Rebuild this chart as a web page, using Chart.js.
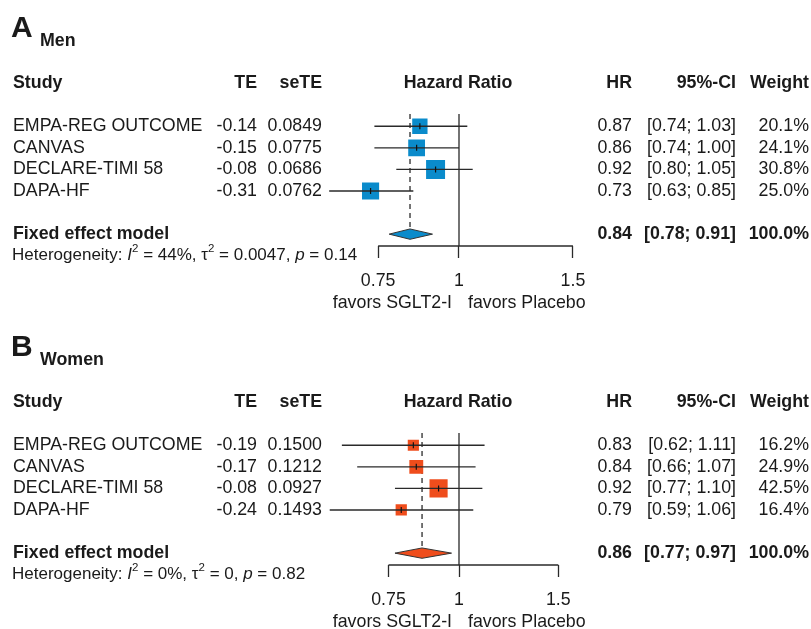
<!DOCTYPE html>
<html>
<head>
<meta charset="utf-8">
<script src="https://cdn.jsdelivr.net/npm/chart.js@4.4.0/dist/chart.umd.min.js"></script>
<style>
html,body{margin:0;padding:0;background:#fff;overflow:hidden;width:811px;height:629px;}
.panel{position:absolute;left:0;width:811px;}
#pA{top:0;height:319px;}
#pB{top:319px;height:310px;}
</style>
</head>
<body>
<div class="panel" id="pA"><canvas id="cA" width="811" height="319"></canvas></div>
<div class="panel" id="pB"><canvas id="cB" width="811" height="310"></canvas></div>
<script>
// ---------- data ----------
const studies = ['EMPA-REG OUTCOME', 'CANVAS', 'DECLARE-TIMI 58', 'DAPA-HF'];
const columnHeaders = ['Study', 'TE', 'seTE', 'Hazard Ratio', 'HR', '95%-CI', 'Weight'];
const axisTicks = [0.75, 1, 1.5];
const favorLabels = ['favors SGLT2-I', 'favors Placebo'];
const fixedLabel = 'Fixed effect model';

// Panel A: Men
const menTE = [-0.14, -0.15, -0.08, -0.31];
const menSeTE = [0.0849, 0.0775, 0.0686, 0.0762];
const menHR = [0.87, 0.86, 0.92, 0.73];
const menLower = [0.74, 0.74, 0.80, 0.63];
const menUpper = [1.03, 1.00, 1.05, 0.85];
const menWeight = [20.1, 24.1, 30.8, 25.0];
const menFixed = [0.84, 0.78, 0.91];          // HR, lower, upper
const menHet = ['44%', '0.0047', '0.14'];      // I^2, tau^2, p

// Panel B: Women
const womenTE = [-0.19, -0.17, -0.08, -0.24];
const womenSeTE = [0.1500, 0.1212, 0.0927, 0.1493];
const womenHR = [0.83, 0.84, 0.92, 0.79];
const womenLower = [0.62, 0.66, 0.77, 0.59];
const womenUpper = [1.11, 1.07, 1.10, 1.06];
const womenWeight = [16.2, 24.9, 42.5, 16.4];
const womenFixed = [0.86, 0.77, 0.97];
const womenHet = ['0%', '0', '0.82'];

// ---------- drawing ----------
const FONT = '"Liberation Sans", Arial, Helvetica, sans-serif';
const FS = 17.8;
const INK = '#1a1a1a';
const LINE = '#2a2a2a';
const TICK_PAD = 12, TICK_LEN = 12;

const tablePlugin = {
  id: 'forestTable',
  afterDraw(chart, args, o) {
    const p = o.panel;
    if (!p) return;
    const ctx = chart.ctx, ys = chart.scales.y, xs = chart.scales.x;
    const Y = r => ys.getPixelForValue(r);
    ctx.save();
    ctx.fillStyle = INK;
    const txt = (s, x, y, align, bold, size, italic) => {
      ctx.font = (italic ? 'italic ' : '') + (bold ? 'bold ' : '') + (size || FS) + 'px ' + FONT;
      ctx.textAlign = align;
      ctx.fillText(s, x, y);
      return ctx.measureText(s).width;
    };
    // panel title
    ctx.textBaseline = 'alphabetic';
    txt(p.letter, 11, 37, 'left', true, 30);
    txt(p.group, 40, 46, 'left', true, FS);
    ctx.textBaseline = 'middle';
    // header row
    const hy = Y(1);
    txt(columnHeaders[0], 13, hy, 'left', true);
    txt(columnHeaders[1], 257, hy, 'right', true);
    txt(columnHeaders[2], 322, hy, 'right', true);
    txt(columnHeaders[3], 458, hy, 'center', true);
    txt(columnHeaders[4], 632, hy, 'right', true);
    txt(columnHeaders[5], 736, hy, 'right', true);
    txt(columnHeaders[6], 809, hy, 'right', true);
    // study rows
    studies.forEach((s, i) => {
      const y = Y(3 + i);
      txt(s, 13, y, 'left');
      txt(p.te[i].toFixed(2), 257, y, 'right');
      txt(p.se[i].toFixed(4), 322, y, 'right');
      txt(p.hr[i].toFixed(2), 632, y, 'right');
      txt('[' + p.lower[i].toFixed(2) + '; ' + p.upper[i].toFixed(2) + ']', 736, y, 'right');
      txt(p.weight[i].toFixed(1) + '%', 809, y, 'right');
    });
    // fixed effect row
    const fy = Y(8);
    txt(fixedLabel, 13, fy, 'left', true);
    txt(p.fixed[0].toFixed(2), 632, fy, 'right', true);
    txt('[' + p.fixed[1].toFixed(2) + '; ' + p.fixed[2].toFixed(2) + ']', 736, fy, 'right', true);
    txt(p.weight.reduce((a, b) => a + b, 0).toFixed(1) + '%', 809, fy, 'right', true);
    // heterogeneity
    const ty = Y(9);
    const hs = 17, ss = 11.5;
    let x = 12;
    const pieces = [
      ['Heterogeneity: ', 0], ['I', 1], ['2', 2], [' = ' + p.het[0] + ', ', 0],
      ['\u03C4', 0], ['2', 2], [' = ' + p.het[1] + ', ', 0], ['p', 1], [' = ' + p.het[2], 0]
    ];
    pieces.forEach(([s, k]) => {
      if (k === 2) x += txt(s, x, ty - 7, 'left', false, ss);
      else x += txt(s, x, ty, 'left', false, hs, k === 1);
    });
    // favors labels
    const x1 = xs.getPixelForValue(1);
    const fvy = 303;
    txt(favorLabels[0], x1 - 7, fvy, 'right');
    txt(favorLabels[1], x1 + 9, fvy, 'left');
    ctx.restore();
  }
};

function buildPanel(canvasId, p) {
  const rows = p.hr.map((_, i) => 3 + i);
  const fixedRow = 8, yMin = 2.2, yMax = 8.55, lineTop = 2.43, dh = 0.24;
  const base = { showLine: true, pointRadius: 0, borderColor: LINE, borderWidth: 1.3, tension: 0 };
  const ds = [];
  // line of no effect
  ds.push(Object.assign({}, base, { data: [{ x: 1, y: lineTop }, { x: 1, y: yMax }], order: 9, clip: false }));
  // pooled estimate (dashed)
  ds.push(Object.assign({}, base, { data: [{ x: p.fixed[0], y: lineTop }, { x: p.fixed[0], y: fixedRow }], borderDash: [5, 4], order: 8 }));
  // axis line between outer ticks
  ds.push(Object.assign({}, base, { data: [{ x: axisTicks[0], y: yMax }, { x: axisTicks[axisTicks.length - 1], y: yMax }], order: 7, clip: false }));
  // squares (area ~ weight)
  ds.push({
    showLine: false,
    data: p.hr.map((v, i) => ({ x: v, y: rows[i] })),
    pointStyle: 'rect',
    pointRadius: c => p.k * Math.sqrt(p.weight[c.dataIndex]) / Math.SQRT2,
    pointBackgroundColor: p.color, pointBorderColor: p.color, pointBorderWidth: 0,
    order: 6
  });
  // confidence intervals
  p.lower.forEach((lo, i) => {
    ds.push(Object.assign({}, base, { data: [{ x: lo, y: rows[i] }, { x: p.upper[i], y: rows[i] }], order: 4 }));
  });
  // centre marks
  ds.push({
    showLine: false,
    data: p.hr.map((v, i) => ({ x: v, y: rows[i] })),
    pointStyle: 'line', pointRotation: 90, pointRadius: 3,
    pointBorderColor: '#111', pointBorderWidth: 1.2,
    order: 3
  });
  // diamond
  ds.push(Object.assign({}, base, {
    data: [
      { x: p.fixed[1], y: fixedRow }, { x: p.fixed[0], y: fixedRow - dh },
      { x: p.fixed[2], y: fixedRow }, { x: p.fixed[0], y: fixedRow + dh },
      { x: p.fixed[1], y: fixedRow }
    ],
    fill: 'shape', backgroundColor: p.color, borderColor: '#333', borderWidth: 1, order: 1
  }));

  const H = document.getElementById(canvasId).height;
  const axisH = TICK_LEN + 2 * TICK_PAD + FS * 1.2;
  return new Chart(document.getElementById(canvasId), {
    type: 'scatter',
    data: { datasets: ds },
    options: {
      responsive: false,
      animation: false,
      events: [],
      layout: { padding: { left: p.left, right: 811 - p.right, top: 109, bottom: H - 246 - axisH } },
      plugins: { legend: { display: false }, tooltip: { enabled: false }, forestTable: { panel: p } },
      scales: {
        x: {
          type: 'logarithmic', min: p.xMin, max: p.xMax,
          afterBuildTicks: s => { s.ticks = axisTicks.map(v => ({ value: v })); },
          ticks: { autoSkip: false, maxRotation: 0, padding: TICK_PAD, color: INK, font: { family: FONT, size: FS }, callback: v => String(v) },
          grid: { drawOnChartArea: false, drawTicks: true, tickLength: TICK_LEN, tickWidth: 1.3, tickColor: LINE },
          border: { display: false }
        },
        y: { type: 'linear', reverse: true, min: yMin, max: yMax, display: false }
      }
    },
    plugins: [tablePlugin]
  });
}

// pixel positions of the log axis: x(1)=459; men 281 px per ln-unit, women 245
buildPanel('cA', {
  letter: 'A', group: 'Men', te: menTE, se: menSeTE, hr: menHR, lower: menLower, upper: menUpper,
  weight: menWeight, fixed: menFixed, het: menHet, color: '#0A8BCB', k: 3.42,
  xMin: 0.6, xMax: 1.6, left: 459 + 281 * Math.log(0.6), right: 459 + 281 * Math.log(1.6)
});
buildPanel('cB', {
  letter: 'B', group: 'Women', te: womenTE, se: womenSeTE, hr: womenHR, lower: womenLower, upper: womenUpper,
  weight: womenWeight, fixed: womenFixed, het: womenHet, color: '#EF4D1C', k: 2.78,
  xMin: 0.55, xMax: 1.6, left: 459 + 245 * Math.log(0.55), right: 459 + 245 * Math.log(1.6)
});
</script>
</body>
</html>
